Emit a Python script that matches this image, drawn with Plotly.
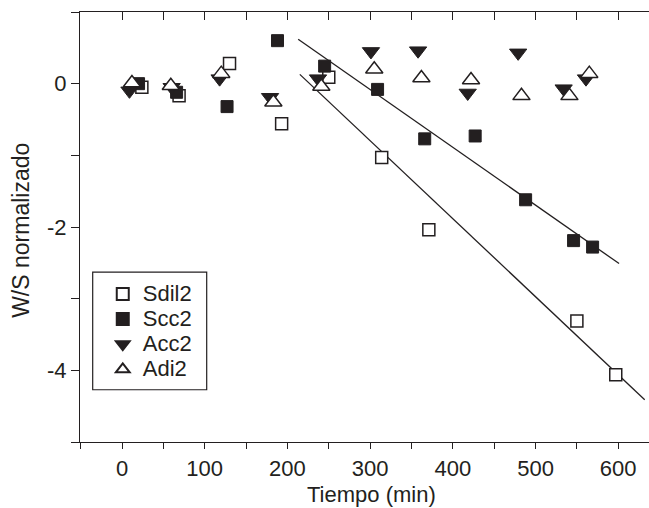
import plotly.graph_objects as go

# --- data ---
sdil2_x = [24, 69, 130, 193, 250, 314, 371, 550, 597]
sdil2_y = [-0.05, -0.17, 0.28, -0.56, 0.09, -1.03, -2.04, -3.31, -4.06]

scc2_x = [20, 66, 127, 188, 245, 309, 366, 427, 488, 546, 569]
scc2_y = [0.0, -0.12, -0.32, 0.60, 0.245, -0.08, -0.77, -0.73, -1.62, -2.19, -2.28]

acc2_x = [9, 60, 118, 179, 237, 301, 358, 418, 479, 534, 561]
acc2_y = [-0.10, -0.05, 0.07, -0.19, 0.07, 0.45, 0.46, -0.13, 0.43, -0.07, 0.07]

adi2_x = [12, 59, 120, 183, 241, 305, 362, 422, 483, 541, 565]
adi2_y = [0.01, -0.03, 0.14, -0.26, -0.04, 0.20, 0.08, 0.05, -0.17, -0.17, 0.14]

fit_scc2_x = [213, 601]
fit_scc2_y = [0.62, -2.51]
fit_sdil2_x = [215, 632]
fit_sdil2_y = [0.13, -4.41]

series_names = ["Sdil2", "Scc2", "Acc2", "Adi2"]

x_ticks = [0, 100, 200, 300, 400, 500, 600]
y_ticks = [-4, -2, 0]
y_ticktext = ["-4", "-2", "0"]

INK = "#231f20"
FONT = "Liberation Sans, Arial, sans-serif"
FS = 22
LEG_FS = 17   # controls legend row spacing


def leg(name):
    return "<span style='font-size:22px'>%s</span>" % name


fig = go.Figure()

fig.add_trace(go.Scatter(x=fit_scc2_x, y=fit_scc2_y, mode="lines",
                         line=dict(color=INK, width=1.3), showlegend=False, hoverinfo="skip"))
fig.add_trace(go.Scatter(x=fit_sdil2_x, y=fit_sdil2_y, mode="lines",
                         line=dict(color=INK, width=1.3), showlegend=False, hoverinfo="skip"))

fig.add_trace(go.Scatter(x=sdil2_x, y=sdil2_y, mode="markers", name=leg(series_names[0]),
                         marker=dict(symbol="square", size=12, color="white",
                                     line=dict(color=INK, width=1.5))))
fig.add_trace(go.Scatter(x=scc2_x, y=scc2_y, mode="markers", name=leg(series_names[1]),
                         marker=dict(symbol="square", size=12, color=INK,
                                     line=dict(color=INK, width=1))))
fig.add_trace(go.Scatter(x=acc2_x, y=acc2_y, mode="markers", name=leg(series_names[2]),
                         marker=dict(symbol="triangle-down", size=15, color=INK,
                                     line=dict(color=INK, width=1))))
fig.add_trace(go.Scatter(x=adi2_x, y=adi2_y, mode="markers", name=leg(series_names[3]),
                         marker=dict(symbol="triangle-up", size=15, color="white",
                                     line=dict(color=INK, width=1.5))))
# invisible trace to carry the mirrored top axis
fig.add_trace(go.Scatter(x=[None], y=[None], xaxis="x2", showlegend=False, hoverinfo="skip"))

XR = [-50.8, 637.2]

fig.update_layout(
    width=649, height=508,
    margin=dict(l=80, r=0, t=12, b=66),
    paper_bgcolor="white", plot_bgcolor="white",
    font=dict(family=FONT, size=FS, color=INK),
    xaxis=dict(range=XR, tickvals=x_ticks, ticks="outside", ticklen=6, tickwidth=1,
               tickcolor=INK, showline=True, linecolor=INK, linewidth=1.3,
               showgrid=False, zeroline=False,
               minor=dict(dtick=50, tick0=0, ticks="outside", ticklen=6, tickwidth=1,
                          tickcolor=INK, showgrid=False),
               tickfont=dict(size=FS)),
    xaxis2=dict(range=XR, overlaying="x", side="top", tickvals=x_ticks, ticks="inside",
                ticklen=8, tickwidth=1, tickcolor=INK, showline=True, linecolor=INK,
                linewidth=1.3, showgrid=False, zeroline=False, showticklabels=False,
                minor=dict(dtick=50, tick0=0, ticks="inside", ticklen=8, tickwidth=1,
                           tickcolor=INK, showgrid=False)),
    yaxis=dict(range=[-5, 1], tickvals=y_ticks, ticktext=y_ticktext, ticks="outside",
               ticklen=8, tickwidth=1, tickcolor=INK, showline=True, linecolor=INK,
               linewidth=1.3, showgrid=False, zeroline=False,
               minor=dict(dtick=1, tick0=0, ticks="outside", ticklen=8, tickwidth=1,
                          tickcolor=INK, showgrid=False),
               tickfont=dict(size=FS)),
    legend=dict(x=0.040, y=0.385, xanchor="left", yanchor="top",
                bgcolor="rgba(0,0,0,0)", borderwidth=0,
                font=dict(size=LEG_FS, family=FONT, color=INK), itemsizing="constant",
                tracegroupgap=0),
    showlegend=True,
    shapes=[dict(type="rect", xref="paper", yref="paper",
                 x0=(92.7 - 80) / 569, x1=(206.7 - 80) / 569,
                 y0=(442.3 - 390) / 430.3, y1=(442.3 - 272.3) / 430.3,
                 line=dict(color=INK, width=1.2), fillcolor="rgba(0,0,0,0)")],
    annotations=[
        dict(text="Tiempo (min)", xref="paper", yref="paper",
             x=(371.7 - 80) / 569, y=(442.3 - 495) / 430.3,
             xanchor="center", yanchor="middle", showarrow=False,
             font=dict(size=FS, family=FONT, color=INK)),
        dict(text="W/S normalizado", xref="paper", yref="paper",
             x=(21 - 80) / 569, y=(442.3 - 231) / 430.3, textangle=-90,
             xanchor="center", yanchor="middle", showarrow=False,
             font=dict(size=23, family=FONT, color=INK)),
    ],
)

fig.write_html("out.html")
